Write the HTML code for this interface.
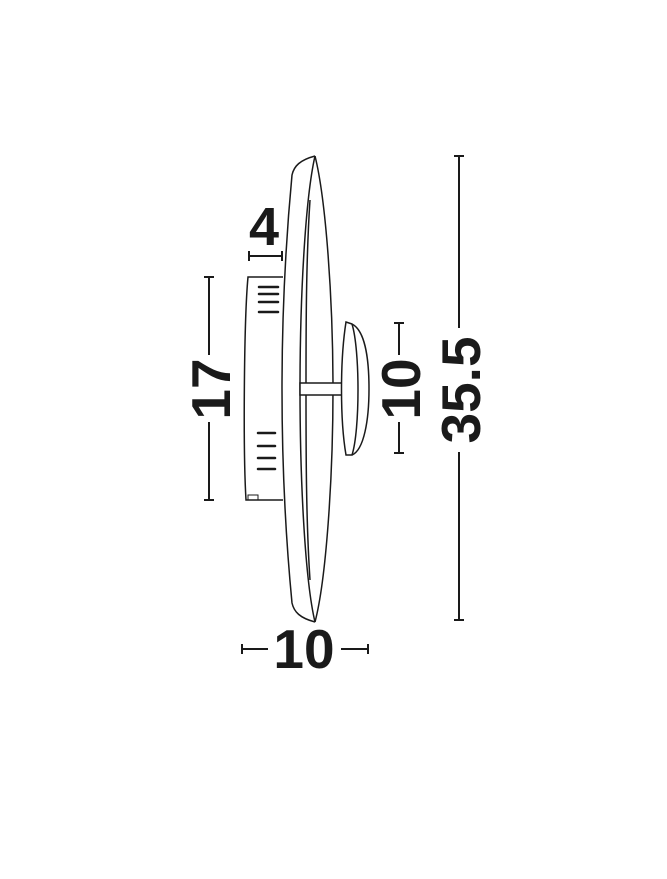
<!DOCTYPE html>
<html><head><style>
html,body{margin:0;padding:0;background:#fff;}
svg{display:block}
text{font-family:"Liberation Sans",sans-serif;font-weight:bold;fill:#1a1a1a;}
</style></head><body>
<svg width="667" height="879" viewBox="0 0 667 879" xmlns="http://www.w3.org/2000/svg">
<g fill="none" stroke="#1a1a1a" stroke-width="1.5">
<!-- ring outer -->
<path d="M315,156 C300,160 294,166 292,175 C284,260 282,330 282,389 C282,450 284,520 292,603 C294,612 300,618 315,622"/>
<path d="M315,156 C326,200 333,300 333,389 C333,480 326,580 315,622"/>
<path d="M315,156 C305,200 300,300 300,389 C300,480 305,580 315,622"/>
<path d="M310,200 C306,260 306,330 306,389 C306,450 306,520 310,580"/>
<!-- backbox -->
<path d="M283,277 L248,277 C244,320 243,450 246,500 L283,500"/>
<rect x="248" y="495" width="10" height="5" stroke-width="1"/>
<!-- stem -->
<rect x="300" y="383" width="43" height="12" fill="#fff"/>
<!-- knob -->
<path d="M346,322 C340,360 340,420 346,455 L352,455 C364,450 369,420 369,389 C369,355 364,330 352,324 Z" fill="#fff"/>
<path d="M352,324 C360,350 360,430 352,455"/>
</g>
<g stroke="#1a1a1a" stroke-width="2.5" stroke-linecap="round">
<line x1="259" y1="287" x2="278" y2="287"/><line x1="259" y1="294" x2="278" y2="294"/>
<line x1="259" y1="302" x2="278" y2="302"/><line x1="259" y1="312" x2="278" y2="312"/>
<line x1="258" y1="433" x2="275" y2="433"/><line x1="258" y1="446" x2="275" y2="446"/>
<line x1="258" y1="458" x2="275" y2="458"/><line x1="258" y1="469" x2="275" y2="469"/>
</g>
<g stroke="#1a1a1a" stroke-width="2">
<!-- 4 -->
<line x1="249" y1="256" x2="282" y2="256"/><line x1="249" y1="251" x2="249" y2="261"/><line x1="282" y1="251" x2="282" y2="261"/>
<!-- 17 -->
<line x1="209" y1="277" x2="209" y2="355"/><line x1="209" y1="422" x2="209" y2="500"/>
<line x1="204" y1="277" x2="214" y2="277"/><line x1="204" y1="500" x2="214" y2="500"/>
<!-- right 10 -->
<line x1="399" y1="323" x2="399" y2="355"/><line x1="399" y1="422" x2="399" y2="453"/>
<line x1="394" y1="323" x2="404" y2="323"/><line x1="394" y1="453" x2="404" y2="453"/>
<!-- 35.5 -->
<line x1="459" y1="156" x2="459" y2="328"/><line x1="459" y1="452" x2="459" y2="620"/>
<line x1="454" y1="156" x2="464" y2="156"/><line x1="454" y1="620" x2="464" y2="620"/>
<!-- bottom 10 -->
<line x1="242" y1="649" x2="268" y2="649"/><line x1="341" y1="649" x2="368" y2="649"/>
<line x1="242" y1="644" x2="242" y2="654"/><line x1="368" y1="644" x2="368" y2="654"/>
</g>
<text x="264" y="245" font-size="54" text-anchor="middle">4</text>
<text x="304" y="668" font-size="55" text-anchor="middle">10</text>
<text transform="translate(230,389) rotate(-90)" font-size="55" text-anchor="middle">17</text>
<text transform="translate(420,389) rotate(-90)" font-size="55" text-anchor="middle">10</text>
<text transform="translate(480,390) rotate(-90)" font-size="55" text-anchor="middle">35.5</text>
</svg>
</body></html>
